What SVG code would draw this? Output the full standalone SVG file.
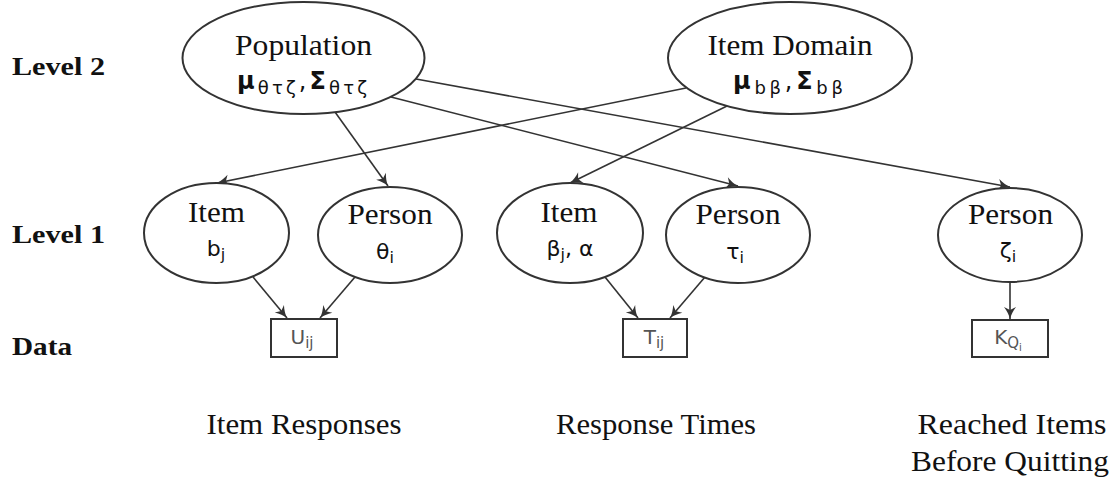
<svg xmlns="http://www.w3.org/2000/svg" width="1115" height="484" viewBox="0 0 1115 484">
<style>
.node{fill:#fff;stroke:#333;stroke-width:2}
.lbl{font-family:"Liberation Serif","Times New Roman",serif;font-size:29px;fill:#111;text-anchor:middle}
.row{font-family:"Liberation Serif","Times New Roman",serif;font-size:26px;font-weight:bold;fill:#111}
.math{font-family:"DejaVu Sans","Noto Sans",sans-serif;fill:#111;text-anchor:middle}
.data{font-family:"DejaVu Sans","Noto Sans",sans-serif;fill:#555;text-anchor:middle;font-size:20px}
.edge{fill:none;stroke:#333;stroke-width:1.6;marker-end:url(#arr)}
</style>
<defs>
<marker id="arr" viewBox="-13 -7 14 14" refX="0" refY="0" markerWidth="14" markerHeight="14" markerUnits="userSpaceOnUse" orient="auto">
<path d="M0,0 C-4,-1 -8,-3 -12,-6 L-9,0 L-12,6 C-8,3 -4,1 0,0 Z" fill="#333"/>
</marker>
</defs>
<rect width="1115" height="484" fill="#fff"/>

<g id="row-labels">
<text class="row" x="12" y="75" textLength="93" lengthAdjust="spacingAndGlyphs">Level 2</text>
<text class="row" x="12" y="243" textLength="93" lengthAdjust="spacingAndGlyphs">Level 1</text>
<text class="row" x="12" y="355" textLength="60" lengthAdjust="spacingAndGlyphs">Data</text>
</g>

<g id="connectors">
<path class="edge" d="M335,112 L388,186"/>
<path class="edge" d="M391,97 L738,186"/>
<path class="edge" d="M416,79 L1010,187"/>
<path class="edge" d="M686,88 L217,183"/>
<path class="edge" d="M727,106 L570,183"/>
<path class="edge" d="M253,277 L287,318"/>
<path class="edge" d="M355,277 L320,318"/>
<path class="edge" d="M605,277 L638,318"/>
<path class="edge" d="M705,277 L670,318"/>
<path class="edge" d="M1010,282 L1010,319"/>
</g>

<g id="population">
<ellipse class="node" cx="303.5" cy="58" rx="121" ry="56"/>
<text class="lbl" x="303.5" y="55" textLength="137" lengthAdjust="spacingAndGlyphs">Population</text>
<text class="math" x="302" y="89" font-size="24" textLength="130" lengthAdjust="spacing"><tspan font-weight="bold">μ</tspan><tspan font-size="18" dy="5">θτζ</tspan><tspan dy="-5">,</tspan><tspan font-weight="bold">Σ</tspan><tspan font-size="18" dy="5">θτζ</tspan></text>
</g>

<g id="item-domain">
<ellipse class="node" cx="790" cy="58" rx="122" ry="56"/>
<text class="lbl" x="790" y="55" textLength="165" lengthAdjust="spacingAndGlyphs">Item Domain</text>
<text class="math" x="788" y="89" font-size="24" textLength="110" lengthAdjust="spacing"><tspan font-weight="bold">μ</tspan><tspan font-size="18" dy="5">bβ</tspan><tspan dy="-5">,</tspan><tspan font-weight="bold">Σ</tspan><tspan font-size="18" dy="5">bβ</tspan></text>
</g>

<g id="item-b">
<ellipse class="node" cx="216.5" cy="233" rx="72.5" ry="50"/>
<text class="lbl" x="216.5" y="222" textLength="57" lengthAdjust="spacingAndGlyphs">Item</text>
<text class="math" x="216" y="256" font-size="22">b<tspan font-size="16" dy="4">j</tspan></text>
</g>

<g id="person-theta">
<ellipse class="node" cx="390" cy="235" rx="72" ry="48"/>
<text class="lbl" x="390" y="224" textLength="85" lengthAdjust="spacingAndGlyphs">Person</text>
<text class="math" x="385" y="259" font-size="22">θ<tspan font-size="16" dy="4">i</tspan></text>
</g>

<g id="item-beta">
<ellipse class="node" cx="570" cy="233" rx="73" ry="50"/>
<text class="lbl" x="569" y="222" textLength="57" lengthAdjust="spacingAndGlyphs">Item</text>
<text class="math" x="570" y="256" font-size="22">β<tspan font-size="16" dy="4">j</tspan><tspan dy="-4">, α</tspan></text>
</g>

<g id="person-tau">
<ellipse class="node" cx="738" cy="235" rx="72" ry="48"/>
<text class="lbl" x="738" y="224" textLength="85" lengthAdjust="spacingAndGlyphs">Person</text>
<text class="math" x="735" y="259" font-size="22">τ<tspan font-size="16" dy="4">i</tspan></text>
</g>

<g id="person-zeta">
<ellipse class="node" cx="1010" cy="235" rx="72" ry="47"/>
<text class="lbl" x="1010.5" y="224" textLength="85" lengthAdjust="spacingAndGlyphs">Person</text>
<text class="math" x="1008" y="258" font-size="22">ζ<tspan font-size="16" dy="4">i</tspan></text>
</g>

<g id="data-u">
<rect class="node" x="271" y="319" width="66" height="38"/>
<text class="data" x="302" y="344">U<tspan font-size="15" dy="4">ij</tspan></text>
<text class="lbl" x="304" y="434" textLength="195" lengthAdjust="spacingAndGlyphs">Item Responses</text>
</g>

<g id="data-t">
<rect class="node" x="623" y="319" width="64" height="38"/>
<text class="data" x="654" y="344">T<tspan font-size="15" dy="4">ij</tspan></text>
<text class="lbl" x="656" y="434" textLength="200" lengthAdjust="spacingAndGlyphs">Response Times</text>
</g>

<g id="data-k">
<rect class="node" x="972" y="320" width="76" height="37"/>
<text class="data" x="1008" y="344">K<tspan font-size="15" dy="4">Q</tspan><tspan font-size="10" dy="3">i</tspan></text>
<text class="lbl" x="1012" y="434" textLength="189" lengthAdjust="spacingAndGlyphs">Reached Items</text>
<text class="lbl" x="1010" y="471" textLength="198" lengthAdjust="spacingAndGlyphs">Before Quitting</text>
</g>
</svg>
